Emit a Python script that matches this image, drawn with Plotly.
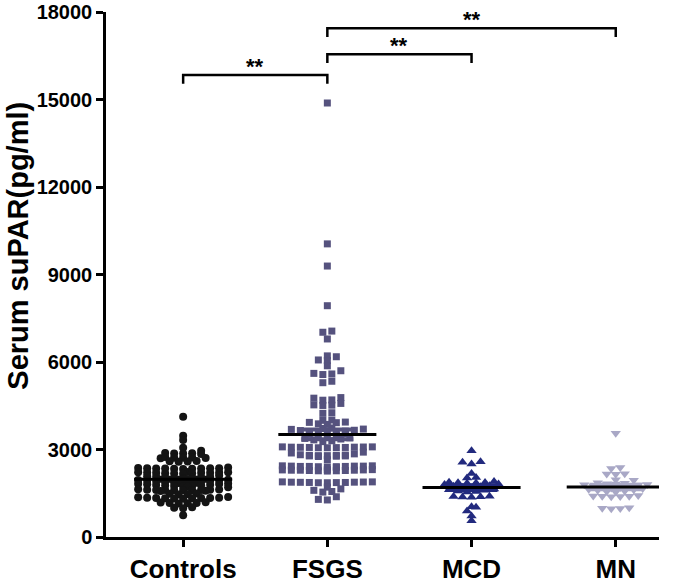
import numpy as np
import plotly.graph_objects as go

categories = ["Controls", "FSGS", "MCD", "MN"]

controls = [4120, 3470, 3330, 3060, 2960,
            2870, 2860, 2850, 2860, 2880,
            2730, 2720, 2700, 2720, 2740, 2710,
            2610, 2590, 2600, 2580,
            2370, 2360, 2350, 2340, 2360, 2350, 2380, 2340, 2330, 2360, 2350,
            2230, 2200, 2210, 2190, 2220, 2180, 2210, 2200, 2170, 2220, 2190, 2200,
            2110, 2085, 2070, 2064, 2052, 2040, 2031, 2018, 2005, 1998, 1990, 1978, 1965, 1960, 1952,
            1944, 1938, 1925, 1917, 1905, 1898, 1886, 1880, 1871, 1862, 1850, 1843, 1831, 1822, 1815,
            1806, 1795, 1784, 1778, 1766, 1752, 1745, 1733, 1721, 1710,
            1630, 1610, 1600, 1620, 1590, 1610, 1640, 1600, 1620, 1580, 1610, 1600,
            1480, 1460, 1490, 1470,
            1360, 1340, 1330, 1350, 1320, 1340, 1370, 1330, 1350, 1340, 1310,
            1180, 1160, 1170, 1190, 1150, 1170,
            1020, 990, 1000,
            750]

fsgs = [14880, 10050, 9290, 7930, 7060, 7020, 6790, 6210, 6180, 6070, 6050, 5870, 5700,
        5610, 5590, 5570, 5340, 5290, 4780, 4760,
        4700, 4690, 4580, 4530, 4520, 4510, 4260, 4240, 4010, 4000, 3940, 3930, 3920, 3880, 3860,
        3740, 3720, 3700, 3690, 3660, 3650, 3630, 3610, 3600, 3590, 3570, 3540, 3520, 3490,
        3450, 3420, 3400, 3380, 3360, 3330, 3300, 3270,
        3090, 3080, 3070, 3060, 3075, 3085, 3065, 3070, 3080, 3060, 3090,
        2910, 2880, 2850, 2820, 2800, 2790, 2780, 2770, 2790, 2800, 2810, 2760, 2780, 2650,
        2440, 2430, 2420, 2410, 2430, 2420, 2440, 2410, 2400, 2430, 2420, 2390,
        2300, 2290, 2280, 2310, 2270, 2290, 2300, 2280, 2270, 2290, 2310, 2260,
        1890, 1880, 1870, 1860, 1875, 1885, 1865, 1870, 1880, 1860, 1890,
        1710, 1650, 1600, 1560, 1540,
        1380, 1290, 1270]

mcd = [2960, 2580, 2560, 2500, 2180, 2040, 2020,
       1900, 1880, 1870, 1860, 1850, 1840, 1820, 1800,
       1760, 1740, 1720, 1700, 1690,
       1650, 1620, 1600, 1580, 1560, 1540,
       1400, 1390, 1380, 1370, 1360,
       1040, 1020, 890, 720, 560]

mn = [3560, 2380, 2350, 2170, 2150, 2160, 1960, 1950,
      1860, 1840, 1830, 1820, 1800, 1790, 1780, 1760, 1740, 1720, 1700, 1680,
      1660, 1640, 1620, 1600, 1580, 1560, 1540,
      1420, 1410, 1400, 1400, 1390, 1380,
      1000, 990, 980, 970]

y_ticks = [0, 3000, 6000, 9000, 12000, 15000, 18000]
y_tick_labels = ["0", "3000", "6000", "9000", "12000", "15000", "18000"]

comparisons = [(0, 1), (1, 2), (1, 3)]
comparison_labels = ["**", "**", "**"]
bracket_levels = [15840, 16550, 17440]

groups = [controls, fsgs, mcd, mn]
colors = ["#141414", "#55527e", "#222a7e", "#a9a8c6"]
symbols = ["circle", "square", "triangle-up", "triangle-down"]
sizes = [8, 7, 9, 9]

FONT = "Liberation Sans, Arial, sans-serif"


def swarm_offsets(vals, row_h=130.0, step=0.0624, maxcols=11):
    vals = np.asarray(vals, dtype=float)
    order = np.argsort(vals)
    offs = np.zeros(len(vals))
    rows = []
    cur = []
    start = None
    for i in order:
        if start is None or vals[i] - start > row_h:
            if cur:
                rows.append(cur)
            cur = [i]
            start = vals[i]
        else:
            cur.append(i)
    if cur:
        rows.append(cur)
    for r in rows:
        n = len(r)
        for p, s0 in enumerate(range(0, n, maxcols)):
            chunk = r[s0:s0 + maxcols]
            m = len(chunk)
            pos = (np.arange(m) - (m - 1) / 2.0) * step
            shift = 0.0 if p == 0 else (0.5 * step if p % 2 else -0.5 * step)
            ordpos = sorted(range(m), key=lambda k: abs(pos[k]))
            for j, idx in enumerate(chunk):
                offs[idx] = pos[ordpos[j]] + shift
    return offs


fig = go.Figure()
shapes = []
for gi, vals in enumerate(groups):
    offs = swarm_offsets(vals)
    fig.add_trace(go.Scatter(
        x=gi + offs, y=vals, mode="markers",
        marker=dict(symbol=symbols[gi], size=sizes[gi], color=colors[gi], line=dict(width=0)),
        showlegend=False, hoverinfo="y"))
    arr = np.asarray(vals, dtype=float)
    m = arr.mean()
    sem = arr.std(ddof=1) / np.sqrt(len(arr))
    for yy in (m - sem, m + sem):
        shapes.append(dict(type="line", xref="x", yref="y", x0=gi - 0.18, x1=gi + 0.18,
                           y0=yy, y1=yy, line=dict(color=colors[gi], width=4)))
    shapes.append(dict(type="line", xref="x", yref="y", x0=gi - 0.34, x1=gi + 0.34,
                       y0=m, y1=m, line=dict(color="black", width=3)))

annotations = []
tick_drop = 300
for (a, b), lab, lev in zip(comparisons, comparison_labels, bracket_levels):
    shapes.append(dict(type="path", xref="x", yref="y",
                       path=f"M {a},{lev - tick_drop} L {a},{lev} L {b},{lev} L {b},{lev - tick_drop}",
                       line=dict(color="black", width=2.5)))
    annotations.append(dict(x=(a + b) / 2, y=lev, xref="x", yref="y", text="<b>" + lab + "</b>",
                            showarrow=False, yanchor="middle", yshift=9,
                            font=dict(family=FONT, size=22, color="black")))

annotations.append(dict(x=-0.159, y=0.555, xref="paper", yref="paper",
                        text="<b>Serum suPAR(pg/ml)</b>", textangle=-90, showarrow=False,
                        xanchor="center", yanchor="middle",
                        font=dict(family=FONT, size=29, color="black")))

fig.update_layout(
    width=693, height=583,
    margin=dict(l=106, r=34, t=12, b=46, autoexpand=False),
    paper_bgcolor="white", plot_bgcolor="white",
    shapes=shapes, annotations=annotations,
    font=dict(family=FONT, color="black"),
)
fig.update_xaxes(range=[-0.535, 3.3], tickvals=[0, 1, 2, 3],
                 ticktext=["<b>" + c + "</b>" for c in categories],
                 tickfont=dict(family=FONT, size=26, color="black"),
                 showline=True, linecolor="black", linewidth=2.5, ticks="outside",
                 ticklen=7, tickwidth=2.5, tickcolor="black", showgrid=False, zeroline=False,
                 automargin=False)
fig.update_yaxes(range=[0, 18000], tickvals=y_ticks,
                 ticktext=["<b>" + t + "</b>" for t in y_tick_labels],
                 tickfont=dict(family=FONT, size=20, color="black"),
                 showline=True, linecolor="black", linewidth=2.5, ticks="outside",
                 ticklen=7, tickwidth=2.5, tickcolor="black", showgrid=False, zeroline=False,
                 automargin=False)

fig.write_html("out.html", config={"displayModeBar": False},
               post_script="document.body.style.margin='0';document.body.style.overflow='hidden';")
